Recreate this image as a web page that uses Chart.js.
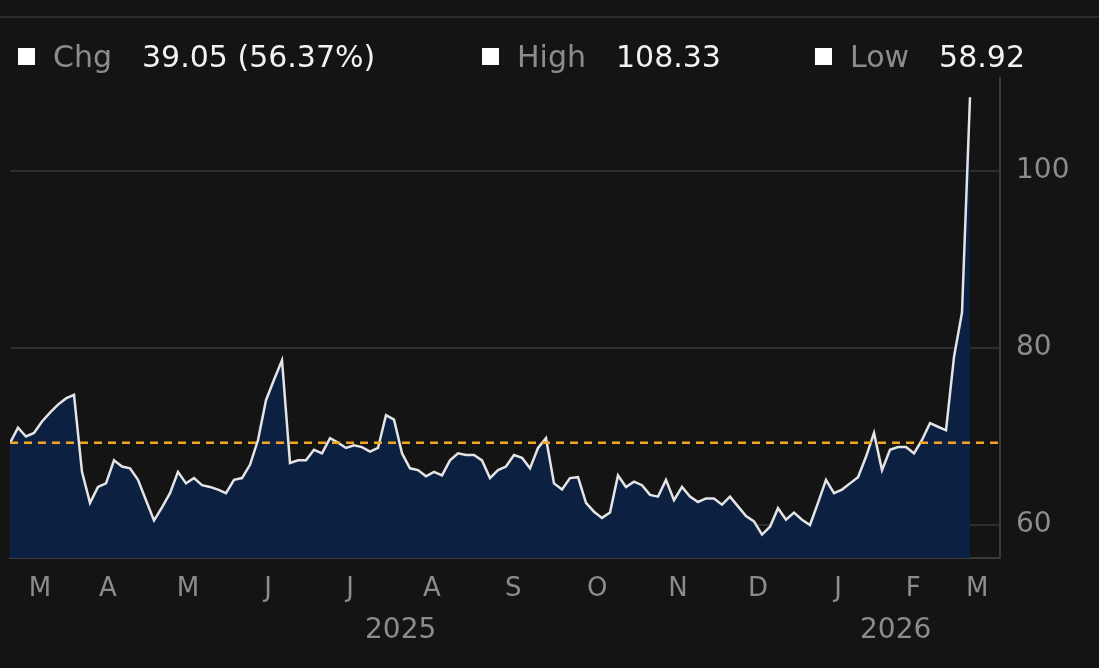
<!DOCTYPE html>
<html>
<head>
<meta charset="utf-8">
<script src="https://cdn.jsdelivr.net/npm/chart.js@4"></script>
<style>
  html, body { margin: 0; padding: 0; background: #141414; }
  #wrap { position: relative; width: 1099px; height: 668px; overflow: hidden; }
  canvas { position: absolute; left: 0; top: 0; }
  .topline { position: absolute; left: 0; top: 16px; width: 1099px; height: 2px; background: #2c2c2c; }
  .leg { position: absolute; top: 39px; font: 30px "DejaVu Sans", sans-serif; color: #8c8c8c; white-space: nowrap; }
  .leg i { display: inline-block; width: 17px; height: 17px; background: #fff; margin-right: 18px; vertical-align: 2px; }
  .leg b { font-weight: normal; color: #f2f2f2; margin-left: 30px; }
  .yr { position: absolute; top: 612px; font: 28px "DejaVu Sans", sans-serif; color: #8c8c8c; }
</style>
</head>
<body>
<div id="wrap">
  <canvas id="c" width="1099" height="668"></canvas>
  <div class="topline"></div>
  <div class="leg" style="left:18px"><i></i>Chg<b>39.05 (56.37%)</b></div>
  <div class="leg" style="left:482px"><i></i>High<b>108.33</b></div>
  <div class="leg" style="left:815px"><i></i>Low<b>58.92</b></div>
  <div class="yr" style="left:365px">2025</div>
  <div class="yr" style="left:860px">2026</div>
</div>
<script>
const values = [69.28, 71.0, 70.0, 70.4, 71.7, 72.7, 73.6, 74.3, 74.7, 66.0,
  62.5, 64.3, 64.7, 67.3, 66.6, 66.4, 65.1, 62.8, 60.5, 62.0,
  63.6, 66.0, 64.7, 65.3, 64.5, 64.3, 64.0, 63.6, 65.1, 65.3,
  66.8, 69.6, 74.1, 76.4, 78.6, 67.0, 67.3, 67.3, 68.5, 68.1,
  69.8, 69.3, 68.7, 69.0, 68.8, 68.3, 68.7, 72.4, 71.9, 68.1,
  66.4, 66.2, 65.5, 66.0, 65.6, 67.3, 68.1, 67.9, 67.9, 67.3,
  65.3, 66.2, 66.6, 67.9, 67.6, 66.4, 68.7, 69.8, 64.7, 64.0,
  65.3, 65.4, 62.5, 61.5, 60.8, 61.4, 65.6, 64.3, 64.9, 64.5,
  63.4, 63.2, 65.1, 62.8, 64.3, 63.2, 62.6, 63.0, 63.0, 62.3,
  63.2, 62.1, 61.0, 60.4, 58.92, 59.8, 61.9, 60.6, 61.4, 60.6,
  60.0, 62.5, 65.1, 63.6, 64.0, 64.7, 65.4, 67.7, 70.4, 66.2,
  68.5, 68.8, 68.8, 68.1, 69.6, 71.5, 71.1, 70.7, 79.0, 84.0,
  108.33];
const monthLabels = ['M', 'A', 'M', 'J', 'J', 'A', 'S', 'O', 'N', 'D', 'J', 'F', 'M'];
const monthPos = [3.75, 12.25, 22.25, 32.25, 42.5, 52.75, 62.9, 73.4, 83.5, 93.5, 103.5, 112.9, 120.9];
const yTicks = [60, 80, 100];
const refLevel = 69.28;
const xMax = 123.75, yMin = 56.27, yMax = 110.5;

const points = values.map((v, i) => ({ x: i, y: v }));

const refLine = {
  id: 'refLine',
  afterDatasetsDraw(chart) {
    const { ctx, chartArea, scales } = chart;
    const y = scales.y.getPixelForValue(refLevel);
    ctx.save();
    ctx.strokeStyle = '#f5a623';
    ctx.lineWidth = 2.5;
    ctx.setLineDash([8, 6]);
    ctx.beginPath();
    ctx.moveTo(chartArea.left, y);
    ctx.lineTo(chartArea.right, y);
    ctx.stroke();
    ctx.restore();
  }
};

new Chart(document.getElementById('c').getContext('2d'), {
  type: 'line',
  data: {
    datasets: [{
      data: points,
      borderColor: '#e4e4e4',
      borderWidth: 2.5,
      backgroundColor: '#0c2142',
      fill: 'start',
      pointRadius: 0,
      tension: 0
    }]
  },
  options: {
    responsive: false,
    animation: false,
    layout: { padding: { left: 10, top: 78, right: 0, bottom: 0 } },
    plugins: { legend: { display: false }, tooltip: { enabled: false } },
    scales: {
      x: {
        type: 'linear', min: 0, max: xMax,
        afterBuildTicks: s => { s.ticks = monthPos.map(v => ({ value: v })); },
        afterFit: s => { s.height = 110; },
        ticks: {
          autoSkip: false, maxRotation: 0, padding: 8,
          color: '#8c8c8c', font: { family: 'DejaVu Sans', size: 26 },
          callback: (v, i) => monthLabels[i]
        },
        grid: { display: false },
        border: { color: '#3a3a3a', width: 2 }
      },
      y: {
        position: 'right', min: yMin, max: yMax,
        afterBuildTicks: s => { s.ticks = yTicks.map(v => ({ value: v })); },
        afterFit: s => { s.width = 99; },
        ticks: {
          padding: 16, color: '#8c8c8c', font: { family: 'DejaVu Sans', size: 28 }
        },
        grid: { color: '#2e2e2e', lineWidth: 2, drawTicks: true, tickLength: 0 },
        border: { color: '#3a3a3a', width: 2 }
      }
    }
  },
  plugins: [refLine]
});
</script>
</body>
</html>
